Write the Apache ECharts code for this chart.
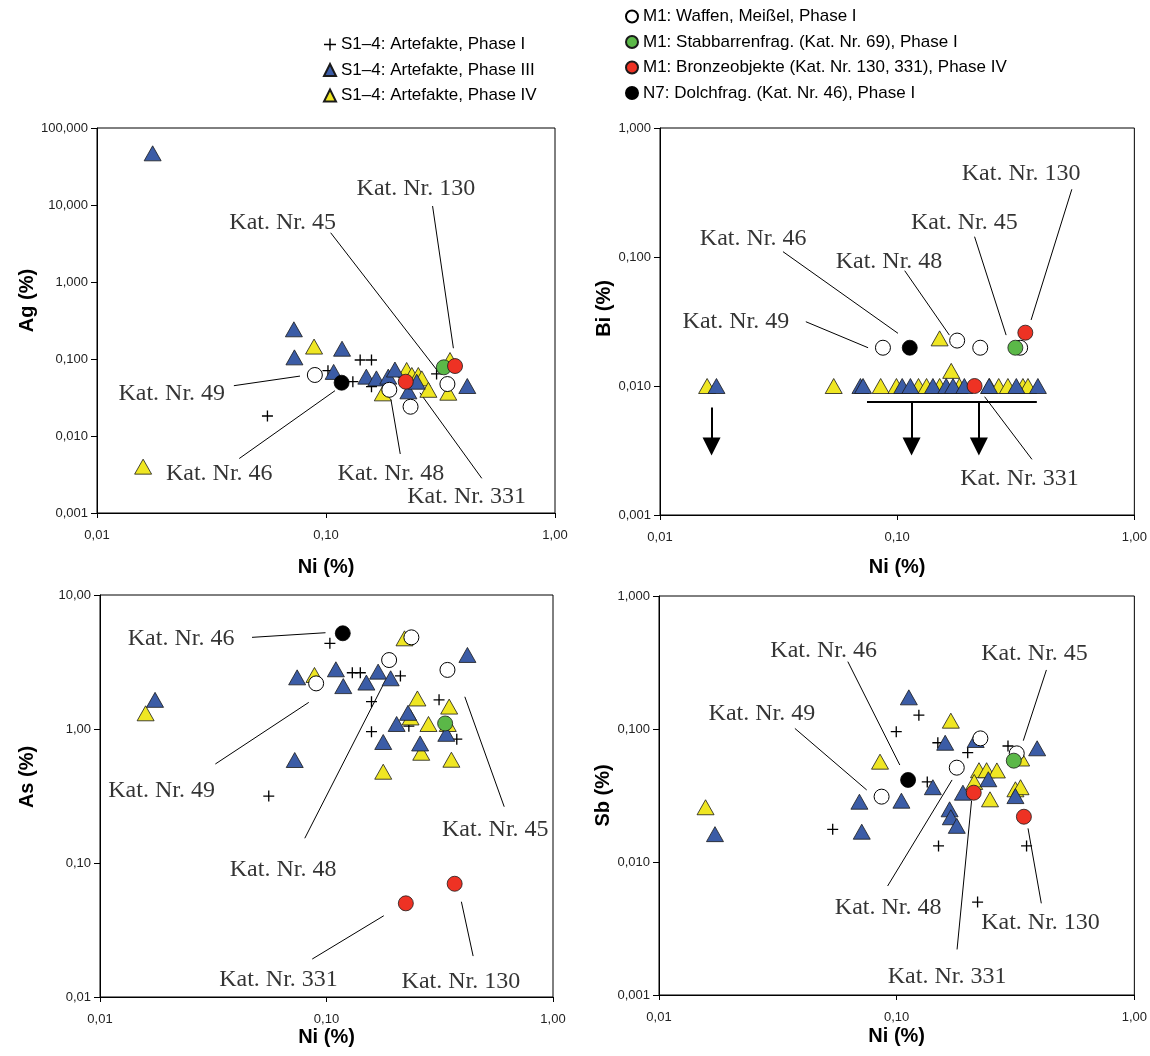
<!DOCTYPE html>
<html><head><meta charset="utf-8">
<script src="https://cdn.jsdelivr.net/npm/echarts@6/dist/echarts.min.js"></script>
<style>html,body{margin:0;padding:0;background:#fff}#c{width:1150px;height:1056px}</style>
</head><body><div id="c"></div>
<script>
// ---------- series names ----------
const seriesNames = [
  'S1–4: Artefakte, Phase I',
  'S1–4: Artefakte, Phase III',
  'S1–4: Artefakte, Phase IV',
  'M1: Waffen, Meißel, Phase I',
  'M1: Stabbarrenfrag. (Kat. Nr. 69), Phase I',
  'M1: Bronzeobjekte (Kat. Nr. 130, 331), Phase IV',
  'N7: Dolchfrag. (Kat. Nr. 46), Phase I'
];

// ---------- tick labels (by decade) ----------
const niTicks = ['0,01', '0,10', '1,00'];                         // 10^-2 .. 10^0
const agTicks = ['0,001', '0,010', '0,100', '1,000', '10,000', '100,000']; // 10^-3 .. 10^2
const biTicks = ['0,001', '0,010', '0,100', '1,000'];              // 10^-3 .. 10^0
const asTicks = ['0,01', '0,10', '1,00', '10,00'];                 // 10^-2 .. 10^1
const sbTicks = ['0,001', '0,010', '0,100', '1,000'];              // 10^-3 .. 10^0

// ---------- Panel 1: Ag vs Ni ----------
const agPlus = [[0.0555,0.0182],[0.102,0.0705],[0.131,0.0507],[0.141,0.097],[0.158,0.097],[0.158,0.0437],[0.304,0.064]];
const agBlue = [[0.0175,46.9],[0.0724,0.243],[0.0728,0.105],[0.1175,0.136],[0.108,0.068],[0.150,0.059],[0.166,0.056],[0.187,0.059],[0.200,0.073],[0.229,0.038],[0.249,0.0507],[0.414,0.0446]];
const agYellow = [[0.0159,0.0040],[0.0887,0.145],[0.177,0.0358],[0.225,0.072],[0.237,0.062],[0.253,0.062],[0.262,0.056],[0.280,0.0398],[0.348,0.097],[0.342,0.0365]];
const agWhite = [[0.0894,0.062],[0.189,0.0398],[0.234,0.024],[0.339,0.0473]];
const agGreen = [[0.327,0.078]];
const agRed = [[0.366,0.081],[0.223,0.0507]];
const agBlack = [[0.117,0.0492]];

// ---------- Panel 2: Bi vs Ni ----------
const biPlus = [];
const biYellow = [[0.0158,0.01],[0.054,0.01],[0.0852,0.01],[0.0993,0.01],[0.123,0.01],[0.133,0.01],[0.151,0.01],[0.183,0.01],[0.245,0.01],[0.268,0.01],[0.293,0.01],[0.339,0.01],[0.356,0.01],[0.151,0.0234],[0.169,0.0131]];
const biBlue = [[0.0173,0.01],[0.070,0.01],[0.0718,0.01],[0.105,0.01],[0.1137,0.01],[0.1415,0.01],[0.161,0.01],[0.172,0.01],[0.192,0.01],[0.244,0.01],[0.318,0.01],[0.392,0.01]];
const biWhite = [[0.0871,0.0198],[0.179,0.0225],[0.224,0.0198],[0.33,0.0198]];
const biGreen = [[0.315,0.0198]];
const biRed = [[0.347,0.0259],[0.212,0.010]];
const biBlack = [[0.113,0.0198]];

// ---------- Panel 3: As vs Ni ----------
const asPlus = [[0.0556,0.316],[0.1035,4.36],[0.130,2.63],[0.141,2.63],[0.212,2.49],[0.158,1.60],[0.158,0.955],[0.314,1.65],[0.231,1.05],[0.376,0.84]];
const asBlue = [[0.0175,1.65],[0.0742,2.43],[0.110,2.79],[0.1186,2.09],[0.150,2.22],[0.169,2.68],[0.192,2.39],[0.0724,0.587],[0.178,0.80],[0.204,1.09],[0.229,1.32],[0.259,0.78],[0.338,0.92],[0.419,3.57]];
const asYellow = [[0.0159,1.31],[0.0885,2.53],[0.178,0.48],[0.252,1.69],[0.235,1.22],[0.282,1.09],[0.262,0.665],[0.348,1.47],[0.356,0.59],[0.343,1.09],[0.221,4.75]];
const asWhite = [[0.237,4.83],[0.189,3.27],[0.342,2.76],[0.090,2.19]];
const asGreen = [[0.334,1.10]];
const asRed = [[0.224,0.050],[0.368,0.070]];
const asBlack = [[0.118,5.18]];

// ---------- Panel 4: Sb vs Ni ----------
const sbPlus = [[0.0538,0.0176],[0.0996,0.0955],[0.124,0.127],[0.149,0.0788],[0.1345,0.040],[0.150,0.0132],[0.199,0.0664],[0.294,0.0745],[0.219,0.0050],[0.352,0.0132]];
const sbBlue = [[0.0172,0.0162],[0.0697,0.0284],[0.0713,0.0169],[0.1047,0.0289],[0.1125,0.173],[0.142,0.0365],[0.160,0.0788],[0.167,0.0249],[0.169,0.0217],[0.179,0.0187],[0.190,0.0332],[0.215,0.0827],[0.243,0.0419],[0.316,0.0313],[0.390,0.0716]];
const sbYellow = [[0.0157,0.0258],[0.0851,0.0568],[0.169,0.1155],[0.222,0.049],[0.239,0.049],[0.264,0.0488],[0.212,0.040],[0.247,0.0296],[0.316,0.0352],[0.332,0.0365],[0.334,0.060]];
const sbWhite = [[0.0864,0.031],[0.179,0.0512],[0.225,0.085],[0.320,0.0656]];
const sbGreen = [[0.311,0.0578]];
const sbRed = [[0.211,0.0332],[0.343,0.0219]];
const sbBlack = [[0.1117,0.0414]];

// ---------- annotations (data coordinates: label centre, leader line from -> to) ----------
const agNotes = [
  {text:'Kat. Nr. 130', at:[0.247,16.5], from:[0.292,9.7], to:[0.360,0.138]},
  {text:'Kat. Nr. 45', at:[0.0647,5.89], from:[0.1048,4.36], to:[0.309,0.0684]},
  {text:'Kat. Nr. 49', at:[0.0212,0.0359], from:[0.0396,0.045], to:[0.077,0.060]},
  {text:'Kat. Nr. 46', at:[0.0342,0.0032], from:[0.0418,0.0051], to:[0.1095,0.0388]},
  {text:'Kat. Nr. 48', at:[0.192,0.0032], from:[0.211,0.00584], to:[0.192,0.030]},
  {text:'Kat. Nr. 331', at:[0.411,0.00163], from:[0.479,0.00282], to:[0.257,0.0365]}
];
const biNotes = [
  {text:'Kat. Nr. 130', at:[0.333,0.445], from:[0.545,0.335], to:[0.367,0.0325]},
  {text:'Kat. Nr. 45', at:[0.192,0.1845], from:[0.212,0.1437], to:[0.288,0.0248]},
  {text:'Kat. Nr. 46', at:[0.0247,0.1396], from:[0.033,0.110], to:[0.1008,0.0256]},
  {text:'Kat. Nr. 48', at:[0.0924,0.092], from:[0.1076,0.0783], to:[0.166,0.0248]},
  {text:'Kat. Nr. 49', at:[0.0209,0.0315], from:[0.0412,0.0315], to:[0.0754,0.0198]},
  {text:'Kat. Nr. 331', at:[0.328,0.00192], from:[0.370,0.0027], to:[0.2337,0.00826]}
];
const asNotes = [
  {text:'Kat. Nr. 46', at:[0.0228,4.75], from:[0.0469,4.83], to:[0.099,5.23]},
  {text:'Kat. Nr. 49', at:[0.0187,0.347], from:[0.0323,0.548], to:[0.0835,1.58]},
  {text:'Kat. Nr. 48', at:[0.0643,0.0887], from:[0.0802,0.153], to:[0.1824,2.32]},
  {text:'Kat. Nr. 45', at:[0.556,0.178], from:[0.609,0.263], to:[0.408,1.74]},
  {text:'Kat. Nr. 331', at:[0.0614,0.0134], from:[0.0865,0.0192], to:[0.179,0.0404]},
  {text:'Kat. Nr. 130', at:[0.392,0.0129], from:[0.444,0.0202], to:[0.394,0.0514]}
];
const sbNotes = [
  {text:'Kat. Nr. 46', at:[0.0493,0.388], from:[0.0623,0.321], to:[0.1031,0.0536]},
  {text:'Kat. Nr. 49', at:[0.0271,0.1297], from:[0.0373,0.101], to:[0.0748,0.0348]},
  {text:'Kat. Nr. 45', at:[0.380,0.371], from:[0.4266,0.278], to:[0.341,0.0817]},
  {text:'Kat. Nr. 48', at:[0.0921,0.00456], from:[0.0916,0.0066], to:[0.171,0.0414]},
  {text:'Kat. Nr. 130', at:[0.403,0.0035], from:[0.406,0.00489], to:[0.357,0.0179]},
  {text:'Kat. Nr. 331', at:[0.163,0.00138], from:[0.1795,0.0022], to:[0.2066,0.0289]}
];
// Bi panel: detection-limit bar and "below limit" arrows
const biLimitBar = [[0.0746,0.0075],[0.388,0.0075]];
const biArrows = [
  [[0.0165,0.0068],[0.0165,0.0034]],
  [[0.115,0.0075],[0.115,0.0034]],
  [[0.221,0.0075],[0.221,0.0034]]
];

// ---------- build option ----------
const panels = [
  {grid:{left:97, top:128, width:458, height:385}, yName:'Ag (%)', yMin:0.001, yMax:100, yTicks:agTicks, yMinExp:-3, yGap:60, yPad:40, xGap:44,
   sets:[agPlus,agBlue,agYellow,agWhite,agGreen,agRed,agBlack], notes:agNotes},
  {grid:{left:660, top:128, width:475, height:387}, yName:'Bi (%)', yMin:0.001, yMax:1, yTicks:biTicks, yMinExp:-3, yGap:40, yPad:26, xGap:42,
   sets:[biPlus,biBlue,biYellow,biWhite,biGreen,biRed,biBlack], notes:biNotes},
  {grid:{left:100, top:595, width:453, height:402}, yName:'As (%)', yMin:0.01, yMax:10, yTicks:asTicks, yMinExp:-2, yGap:63, yPad:38, xGap:30,
   sets:[asPlus,asBlue,asYellow,asWhite,asGreen,asRed,asBlack], notes:asNotes},
  {grid:{left:659, top:596, width:479, height:399}, yName:'Sb (%)', yMin:0.001, yMax:1, yTicks:sbTicks, yMinExp:-3, yGap:39, yPad:0, xGap:31,
   sets:[sbPlus,sbBlue,sbYellow,sbWhite,sbGreen,sbRed,sbBlack], notes:sbNotes}
];

const PLUS = 'path://M4.4,0 H5.6 V4.4 H10 V5.6 H5.6 V10 H4.4 V5.6 H0 V4.4 H4.4 Z';
const styles = [
  {symbol:PLUS, symbolSize:11, itemStyle:{color:'#000', opacity:1}},
  {symbol:'triangle', symbolSize:[17,15], itemStyle:{color:'#3B5CA6', borderColor:'#1a1a1a', borderWidth:0.8, opacity:1}},
  {symbol:'triangle', symbolSize:[17,15], itemStyle:{color:'#EFE623', borderColor:'#1a1a1a', borderWidth:0.8, opacity:1}},
  {symbol:'circle', symbolSize:15, itemStyle:{color:'#fff', borderColor:'#000', borderWidth:1, opacity:1}},
  {symbol:'circle', symbolSize:15, itemStyle:{color:'#5BB848', borderColor:'#1a1a1a', borderWidth:0.8, opacity:1}},
  {symbol:'circle', symbolSize:15, itemStyle:{color:'#EE3224', borderColor:'#1a1a1a', borderWidth:0.8, opacity:1}},
  {symbol:'circle', symbolSize:15, itemStyle:{color:'#000', borderColor:'#000', borderWidth:0.8, opacity:1}}
];
// draw order: plus, yellow, blue, white, green, red, black
const drawOrder = [0,2,1,3,4,5,6];

const tickFont = {fontFamily:'Liberation Sans, Arial, sans-serif', fontSize:13, color:'#222'};
const nameFont = {fontFamily:'Liberation Sans, Arial, sans-serif', fontSize:20, fontWeight:'bold', color:'#000'};

const grids = [], xAxes = [], yAxes = [], series = [];
panels.forEach((p, gi) => {
  grids.push(Object.assign({show:true, borderColor:'#000', borderWidth:1, backgroundColor:'#fff'}, p.grid));
  xAxes.push({
    type:'log', logBase:10, gridIndex:gi, min:0.01, max:1,
    name:'Ni (%)', nameLocation:'middle', nameGap:p.xGap, nameTextStyle:nameFont,
    axisLine:{show:true, lineStyle:{color:'#000', width:1}},
    axisTick:{show:true, length:5, lineStyle:{color:'#000'}},
    minorTick:{show:false}, splitLine:{show:false},
    axisLabel:Object.assign({margin:16, formatter:v => niTicks[Math.round(Math.log10(v)) + 2]}, tickFont)
  });
  yAxes.push({
    type:'log', logBase:10, gridIndex:gi, min:p.yMin, max:p.yMax,
    name:p.yName, nameLocation:'middle', nameGap:p.yGap,
    nameTextStyle:Object.assign({padding:[0,0,0,p.yPad]}, nameFont),
    axisLine:{show:true, lineStyle:{color:'#000', width:1}},
    axisTick:{show:true, length:6, lineStyle:{color:'#000'}},
    minorTick:{show:false}, splitLine:{show:false},
    axisLabel:Object.assign({margin:9, formatter:v => p.yTicks[Math.round(Math.log10(v)) - p.yMinExp]}, tickFont)
  });
  // leader lines
  series.push({
    type:'lines', coordinateSystem:'cartesian2d', xAxisIndex:gi, yAxisIndex:gi, silent:true, z:1,
    symbol:'none', lineStyle:{color:'#000', width:1, opacity:1},
    data:p.notes.map(n => ({coords:[n.from, n.to]}))
  });
  if (gi === 1) {
    series.push({
      type:'lines', coordinateSystem:'cartesian2d', xAxisIndex:gi, yAxisIndex:gi, silent:true, z:1,
      symbol:'none', lineStyle:{color:'#000', width:2, opacity:1},
      data:[{coords:biLimitBar}]
    });
    series.push({
      type:'lines', coordinateSystem:'cartesian2d', xAxisIndex:gi, yAxisIndex:gi, silent:true, z:1,
      symbol:['none','triangle'], symbolSize:[18,18], lineStyle:{color:'#000', width:2, opacity:1},
      itemStyle:{color:'#000'},
      data:biArrows.map(a => ({coords:a}))
    });
  }
  drawOrder.forEach(k => {
    const st = styles[k];
    series.push({
      type:'scatter', name:seriesNames[k], xAxisIndex:gi, yAxisIndex:gi, z:3,
      symbol:st.symbol, symbolSize:st.symbolSize, itemStyle:st.itemStyle,
      emphasis:{disabled:true}, data:p.sets[k]
    });
  });
  // annotation texts
  series.push({
    type:'scatter', xAxisIndex:gi, yAxisIndex:gi, silent:true, z:4, symbolSize:0,
    label:{show:true, position:'inside', formatter:'{b}', fontFamily:'Liberation Serif, Times New Roman, serif', fontSize:24, color:'#000'},
    data:p.notes.map(n => ({name:n.text, value:n.at}))
  });
});

const legendText = {fontFamily:'Liberation Sans, Arial, sans-serif', fontSize:17, color:'#000'};
const option = {
  animation:false,
  backgroundColor:'#fff',
  legend:[
    {orient:'vertical', left:318, top:31, itemWidth:12, itemHeight:12, itemGap:8.5, selectedMode:false,
     textStyle:legendText, data:seriesNames.slice(0,3)},
    {orient:'vertical', left:620, top:3, itemWidth:12, itemHeight:12, itemGap:8.5, selectedMode:false,
     textStyle:legendText, data:seriesNames.slice(3)}
  ],
  grid:grids, xAxis:xAxes, yAxis:yAxes, series:series
};
const chart = echarts.init(document.getElementById('c'), null, {renderer:'canvas'});
chart.setOption(option);
</script></body></html>
